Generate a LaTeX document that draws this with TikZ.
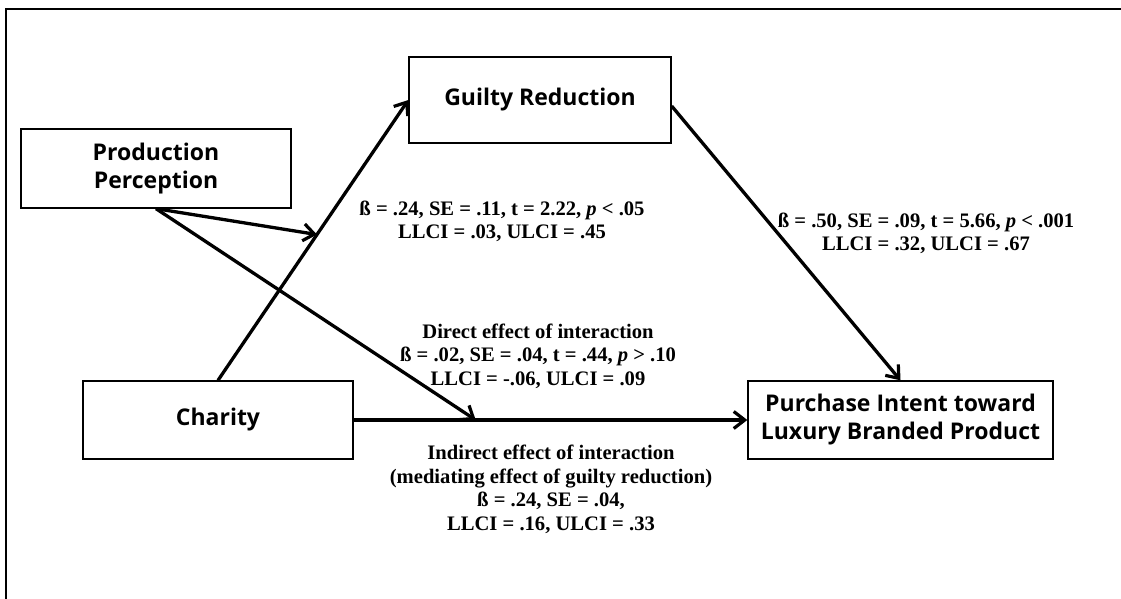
\documentclass[tikz,border=0pt]{standalone}
\usepackage{fontspec}
\setmainfont{Liberation Serif}
\newfontfamily\boxfont{Open Sans}
\usetikzlibrary{arrows.meta}
\tikzset{
  vbox/.style={draw=black, line width=1.3pt, fill=white, inner sep=0pt, align=center,
    font=\boxfont\bfseries\fontsize{23}{28}\selectfont},
  arr/.style={line width=3.3pt, -{Straight Barb[length=11pt,width=17pt,line width=3.2pt]}},
  lab/.style={align=center, inner sep=0pt, font=\bfseries\fontsize{20.6}{23.5}\selectfont}
}
\begin{document}
\begin{tikzpicture}[x=1pt,y=-1pt]
\useasboundingbox[fill=white] (0,0) rectangle (1121,599);
\draw[line width=2.6pt] (6,599) -- (6,9) -- (1121,9);

\node[vbox, minimum width=270pt, minimum height=79pt] (pp) at (156,168.5) {Production\\Perception};
\node[vbox, minimum width=262pt, minimum height=86pt] (gr) at (540,100) {Guilty Reduction};
\node[vbox, minimum width=270pt, minimum height=78pt] (ch) at (218,420) {Charity};
\node[vbox, minimum width=305pt, minimum height=78pt] (pu) at (900.5,420) {Purchase Intent toward\\Luxury Branded Product};

\draw[arr] (ch.north) -- coordinate[pos=0.52] (m1) (gr.west);
\draw[arr] (ch.east) -- coordinate[pos=0.31] (m2) (pu.west);
\draw[arr] (pp.south) -- (m1);
\draw[arr] (pp.south) -- (m2);
\draw[arr] ([yshift=-6pt]gr.east) -- (pu.north);

\node[lab] (l1) at (502,221.5) {ß = .24, SE = .11, t = 2.22, \textit{p} < .05\\LLCI = .03, ULCI = .45};
\node[lab] (l2) at (926,233.5) {ß = .50, SE = .09, t = 5.66, \textit{p} < .001\\LLCI = .32, ULCI = .67};
\node[lab] (l3) at (538,356) {Direct effect of interaction\\ß = .02, SE = .04, t = .44, \textit{p} > .10\\LLCI = -.06, ULCI = .09};
\node[lab] (l4) at (551,489.5) {Indirect effect of interaction\\(mediating effect of guilty reduction)\\ß = .24, SE = .04,\\LLCI = .16, ULCI = .33};
\end{tikzpicture}
\end{document}
